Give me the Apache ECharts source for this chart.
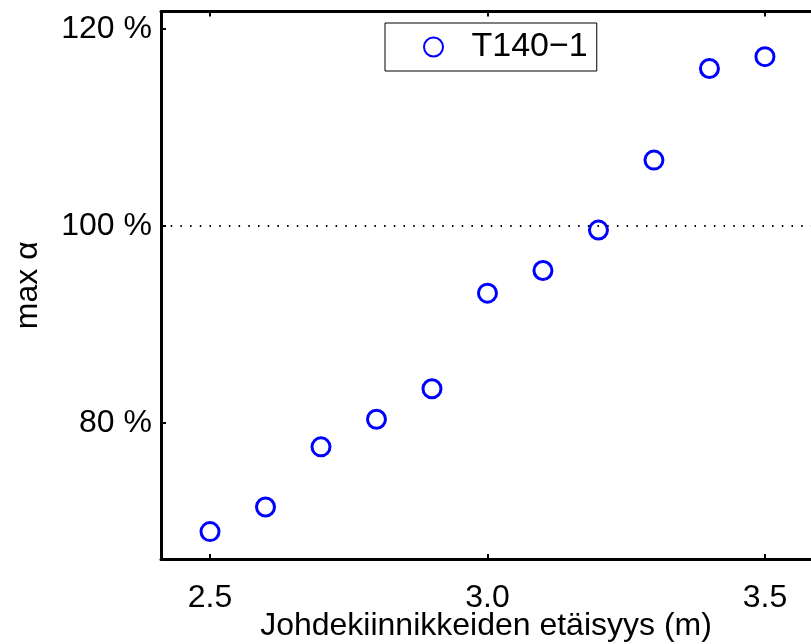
<!DOCTYPE html>
<html>
<head>
<meta charset="utf-8">
<script src="https://cdn.jsdelivr.net/npm/echarts@6/dist/echarts.min.js"></script>
<style>
  html, body { margin: 0; padding: 0; background: #fff; }
  #chart { width: 811px; height: 644px; }
</style>
</head>
<body>
<div id="chart"></div>
<script>
// etäisyys (m) ja max alpha (%)
var distances = [2.5, 2.6, 2.7, 2.8, 2.9, 3.0, 3.1, 3.2, 3.3, 3.4, 3.5];
var maxAlpha = [69.0, 71.5, 77.6, 80.4, 83.5, 93.2, 95.5, 99.6, 106.7, 116.0, 117.2];
var xTicks = [2.5, 3.0, 3.5];
var yTicks = [80, 100, 120];
var seriesName = 'T140\u22121';

var font = 'Liberation Sans, Arial, Helvetica, sans-serif';

var points = distances.map(function (d, i) {
    return [d, maxAlpha[i]];
});

var myChart = echarts.init(document.getElementById('chart'));

var axisLine = { show: true, lineStyle: { color: '#000', width: 3 } };

var option = {
    animation: false,
    backgroundColor: '#fff',
    grid: {
        left: 161,
        top: 11.5,
        right: 0,
        bottom: 85,
        outerBoundsMode: 'none'
    },
    legend: {
        left: 385,
        top: 23,
        orient: 'vertical',
        data: [seriesName],
        borderColor: '#000',
        borderWidth: 1,
        padding: [7, 9, 7, 38],
        itemWidth: 20,
        itemHeight: 19,
        textStyle: { fontFamily: font, fontSize: 34, color: '#000', padding: [0, 0, 0, 23] }
    },
    xAxis: [
        {
            type: 'value',
            position: 'bottom',
            min: 2.4117,
            max: 3.583,
            name: 'Johdekiinnikkeiden etäisyys (m)',
            nameLocation: 'middle',
            nameGap: 51,
            nameMoveOverlap: false,
            nameTextStyle: { fontFamily: font, fontSize: 32, color: '#000' },
            axisLine: axisLine,
            axisTick: { show: true, inside: true, length: 5, customValues: xTicks, lineStyle: { color: '#000', width: 2 } },
            axisLabel: {
                customValues: xTicks,
                margin: 23,
                fontFamily: font,
                fontSize: 32,
                color: '#000',
                formatter: function (v) { return v.toFixed(1); }
            },
            splitLine: { show: false }
        },
        {
            type: 'value',
            position: 'top',
            min: 2.4117,
            max: 3.583,
            axisLine: axisLine,
            axisTick: { show: true, inside: true, length: 5, customValues: xTicks, lineStyle: { color: '#000', width: 2 } },
            axisLabel: { show: false },
            splitLine: { show: false }
        }
    ],
    yAxis: {
        type: 'value',
        min: 66.22,
        max: 121.78,
        name: 'max α',
        nameLocation: 'middle',
        nameGap: 117,
        nameTextStyle: { fontFamily: font, fontSize: 32, color: '#000' },
        axisLine: axisLine,
        axisTick: { show: true, inside: true, length: 5, customValues: yTicks, lineStyle: { color: '#000', width: 2 } },
        axisLabel: {
            customValues: yTicks,
            margin: 9,
            fontFamily: font,
            fontSize: 32,
            color: '#000',
            formatter: function (v) { return v + ' %'; }
        },
        splitLine: { show: false }
    },
    series: [
        {
            name: seriesName,
            type: 'scatter',
            data: points,
            symbol: 'circle',
            symbolSize: 18,
            itemStyle: {
                color: 'rgba(255,255,255,0)',
                borderColor: '#0000ff',
                borderWidth: 3,
                opacity: 1
            },
            markLine: {
                silent: true,
                symbol: 'none',
                label: { show: false },
                lineStyle: { color: '#000', width: 2, type: [1.5, 8.2] },
                data: [{ yAxis: 100 }]
            }
        }
    ]
};

myChart.setOption(option);
</script>
</body>
</html>
